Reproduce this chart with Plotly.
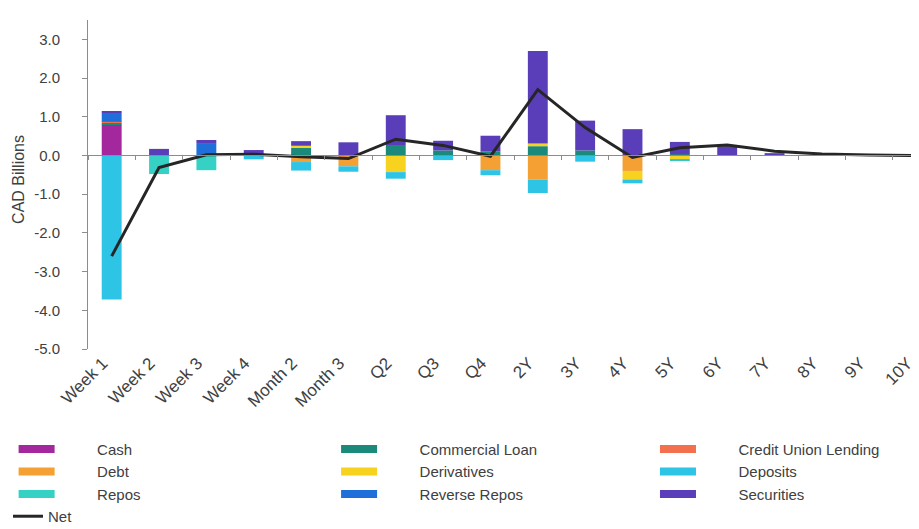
import plotly.graph_objects as go

categories = ["Week 1", "Week 2", "Week 3", "Week 4", "Month 2", "Month 3", "Q2", "Q3", "Q4",
              "2Y", "3Y", "4Y", "5Y", "6Y", "7Y", "8Y", "9Y", "10Y"]

cash =          [0.80, 0, 0, 0, 0, 0, 0, 0, 0, 0, 0, 0, 0, 0, 0, 0, 0, 0]
commercial =    [0.04, 0, 0, 0, 0.20, 0, 0.27, 0.13, 0.10, 0.24, 0.13, 0, 0.03, 0, 0, 0, 0, 0]
credit_union =  [0.03, 0, 0, 0, 0, 0, 0, 0, 0, 0, 0, 0, 0, 0, 0, 0, 0, 0]
debt =          [0, 0, 0, 0, -0.17, -0.28, 0, 0, -0.38, -0.62, 0, -0.40, 0, 0, 0, 0, 0, 0]
derivatives =   [0, 0, 0, 0, 0.05, 0, -0.43, 0, 0, 0.07, 0, -0.22, -0.10, 0, 0, 0, 0, 0]
deposits =      [-3.72, 0, 0, -0.10, -0.22, -0.14, -0.17, -0.12, -0.13, -0.35, -0.16, -0.10, -0.04, 0, 0, 0, 0, 0]
repos =         [0, -0.48, -0.38, 0, 0, 0, 0, 0, 0, 0, 0, 0, 0, 0, 0, 0, 0, 0]
reverse_repos = [0.23, 0, 0.30, 0, 0, 0, 0, 0, 0, 0, 0, 0, 0, 0, 0, 0, 0, 0]
securities =    [0.03, 0.17, 0.10, 0.14, 0.12, 0.34, 0.77, 0.25, 0.41, 2.39, 0.77, 0.68, 0.32, 0.24, 0.06, 0.01, 0, 0]
net =           [-2.60, -0.31, 0.02, 0.03, -0.03, -0.08, 0.42, 0.26, -0.02, 1.70, 0.72, -0.05, 0.20, 0.27, 0.11, 0.04, 0.01, 0.0]

y_tick_values = [-5, -4, -3, -2, -1, 0, 1, 2, 3]
y_tick_labels = ["-5.0", "-4.0", "-3.0", "-2.0", "-1.0", "0.0", "1.0", "2.0", "3.0"]
y_title = "CAD Billions"

series = [
    ("Cash", cash, "#A3289E"),
    ("Commercial Loan", commercial, "#1B8A7A"),
    ("Credit Union Lending", credit_union, "#F2704E"),
    ("Debt", debt, "#F5A033"),
    ("Derivatives", derivatives, "#F7D21E"),
    ("Deposits", deposits, "#2EC4E6"),
    ("Repos", repos, "#34D1C4"),
    ("Reverse Repos", reverse_repos, "#1E6FD9"),
    ("Securities", securities, "#5A3DB8"),
]

FONT = "Liberation Sans"
GREY = "#404040"
PAD = "\u00a0" * 9
legend_cols = ["legend", "legend2", "legend3"]

fig = go.Figure()
for name, vals, col in series:
    fig.add_trace(go.Bar(x=categories, y=vals, name=name, marker_color=col,
                         marker_line_width=0, legendgroup=name, showlegend=False))
# legend swatches (wide thin bars), three columns
for i, (name, vals, col) in enumerate(series):
    fig.add_trace(go.Scatter(x=[None], y=[None], mode="lines", name=PAD + name,
                             line=dict(color=col, width=8), legendgroup=name,
                             legend=legend_cols[i % 3]))

fig.add_trace(go.Scatter(x=categories, y=net, name="Net", mode="lines",
                         line=dict(color="#262626", width=3), xaxis="x2",
                         legend="legend4"))

n = len(categories)
leg_common = dict(orientation="v", xref="container", yref="container",
                  xanchor="left", yanchor="top", itemwidth=36, tracegroupgap=0,
                  font=dict(size=15, color=GREY), bgcolor="rgba(0,0,0,0)")
leg_top = 0.197
fig.update_layout(
    width=919, height=529,
    paper_bgcolor="white", plot_bgcolor="white",
    barmode="relative", bargap=0.58,
    margin=dict(l=80, r=0, t=12, b=188, autoexpand=False),
    font=dict(family=FONT, size=14, color=GREY),
    xaxis=dict(type="category", categoryorder="array", categoryarray=categories,
               range=[-0.5, n - 0.78], showline=False, ticks="", showgrid=False,
               tickangle=-45, tickfont=dict(size=17, color=GREY), zeroline=False,
               ticklabelshift=-9, automargin=False),
    xaxis2=dict(type="category", categoryorder="array", categoryarray=categories,
                overlaying="x", matches="x", anchor="free", position=5 / 8.5,
                side="bottom", showline=True, linecolor="#8c8c8c", linewidth=1,
                ticks="outside", tickson="boundaries", ticklen=4, tickcolor="#8c8c8c",
                showticklabels=False, showgrid=False, zeroline=False, automargin=False),
    yaxis=dict(range=[-5, 3.5], tickmode="array", tickvals=y_tick_values,
               ticktext=y_tick_labels,
               showline=True, linecolor="#8c8c8c", linewidth=1, ticks="outside",
               ticklen=5, tickcolor="#8c8c8c", showgrid=False, zeroline=False,
               tickfont=dict(size=15, color=GREY), ticklabelstandoff=19,
               automargin=False),
    legend=dict(x=0.0061, y=leg_top, **leg_common),
    legend2=dict(x=0.357, y=leg_top, **leg_common),
    legend3=dict(x=0.704, y=leg_top, **leg_common),
    legend4=dict(x=0.0, y=0.07, xref="container", yref="container",
                 xanchor="left", yanchor="top", orientation="v",
                 font=dict(size=15, color=GREY), bgcolor="rgba(0,0,0,0)"),
    annotations=[dict(text=y_title, textangle=-90, xref="paper", yref="paper",
                      x=-0.0822, y=0.514, xanchor="center", yanchor="middle",
                      showarrow=False, font=dict(size=16, color=GREY))],
)

fig.write_html("out.html")
